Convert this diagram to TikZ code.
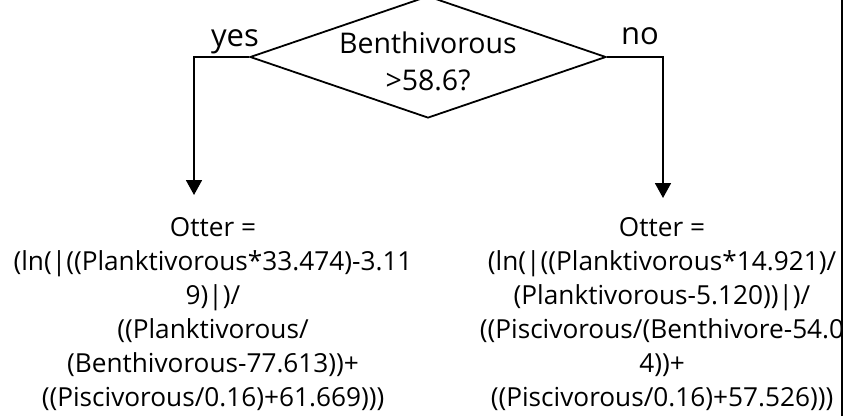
\documentclass[tikz,border=0pt]{standalone}
\usepackage{fontspec}
\setmainfont{Open Sans}
\usetikzlibrary{shapes.geometric, arrows.meta, positioning, calc}

\begin{document}
\begin{tikzpicture}[
    x=1pt, y=1pt,
    decision/.style={diamond, draw, line width=1.8pt, inner sep=0pt,
                minimum width=356pt, minimum height=122pt},
    question/.style={inner sep=0pt, align=center, font=\fontsize{28.5}{37}\selectfont},
    result/.style={inner sep=0pt, align=center, anchor=north, font=\fontsize{26.2}{34}\selectfont},
    answer/.style={inner sep=0pt, anchor=base, font=\fontsize{31}{36}\selectfont},
    branch/.style={line width=1.8pt, -{Triangle[width=16pt, length=15pt]}}
]
    \useasboundingbox (0,0) rectangle (845,416);
    \clip (0,0) rectangle (843,416);

    % Test on the benthivore share
    \node[decision] (split) at (428,359) {};
    \node[question] (splittext) at (428,355) {Benthivorous\\>58.6?};

    % Branch labels
    \node[answer] (yes) at (235,369) {yes};
    \node[answer] (no) at (640,371) {no};

    % Ends of the two branches
    \coordinate (yesend) at (194,221);
    \coordinate (noend) at (663,218);

    % Otter equations
    \node[result] (yesfit) at (213,199) {
        Otter =\\
        (ln(|((Planktivorous*33.474)-3.11\\
        9)|)/\\
        ((Planktivorous/\\
        (Benthivorous-77.613))+\\
        ((Piscivorous/0.16)+61.669)))
    };
    \node[result] (nofit) at (662,199) {
        Otter =\\
        (ln(|((Planktivorous*14.921)/\\
        (Planktivorous-5.120))|)/\\
        ((Piscivorous/(Benthivore-54.0\\
        4))+\\
        ((Piscivorous/0.16)+57.526)))
    };

    % Branches
    \draw[branch] (split.west) -| (yesend);
    \draw[branch] (split.east) -| (noend);

    % Page edge
    \draw[line width=1.8pt] (842,0) -- (842,416);
\end{tikzpicture}
\end{document}
